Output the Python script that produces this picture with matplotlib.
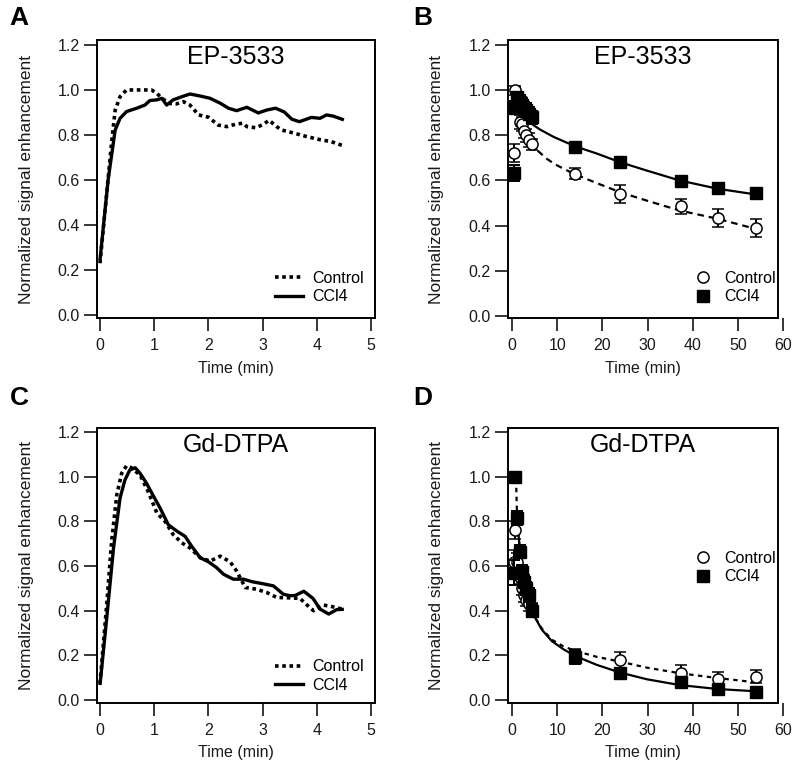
import matplotlib
matplotlib.use("Agg")
import matplotlib.pyplot as plt
from matplotlib.patches import Rectangle
from matplotlib.lines import Line2D

plt.rcParams['font.family'] = ['Liberation Sans', 'DejaVu Sans']

W, H = 800, 780

# ---------------- data ----------------
# Panel A: EP-3533 early time course
a_ctrl_t = [0, 0.12, 0.22, 0.28, 0.37, 0.49, 0.6, 0.75, 0.95, 1.05, 1.14, 1.29, 1.41, 1.54, 1.66,
            1.82, 2.0, 2.18, 2.34, 2.52, 2.64, 2.71, 2.88, 3.01, 3.12, 3.26, 3.35, 3.47, 3.6, 3.81,
            4.06, 4.27, 4.5]
a_ctrl_y = [0.23, 0.53, 0.78, 0.91, 0.97, 1.0, 1.0, 1.0, 1.0, 0.985, 0.963, 0.94, 0.938, 0.948, 0.933,
            0.889, 0.879, 0.844, 0.837, 0.849, 0.852, 0.837, 0.832, 0.847, 0.865, 0.837, 0.822, 0.815,
            0.807, 0.793, 0.779, 0.77, 0.751]
a_ccl4_t = [0, 0.15, 0.28, 0.37, 0.49, 0.68, 0.83, 0.92, 1.05, 1.14, 1.23, 1.35, 1.51, 1.66, 1.85,
            2.03, 2.22, 2.37, 2.52, 2.71, 2.92, 3.08, 3.24, 3.4, 3.54, 3.68, 3.9, 4.06, 4.18, 4.3, 4.5]
a_ccl4_y = [0.244, 0.6, 0.822, 0.874, 0.904, 0.919, 0.933, 0.953, 0.956, 0.963, 0.933, 0.956, 0.97,
            0.982, 0.973, 0.963, 0.941, 0.919, 0.908, 0.923, 0.898, 0.911, 0.919, 0.902, 0.87, 0.859,
            0.878, 0.874, 0.889, 0.884, 0.867]

# Panel C: Gd-DTPA early time course
c_ctrl_t = [0, 0.12, 0.215, 0.31, 0.4, 0.49, 0.58, 0.74, 0.89, 1.05, 1.2, 1.35, 1.51, 1.66, 1.85,
            2.03, 2.22, 2.4, 2.52, 2.68, 2.89, 3.08, 3.26, 3.44, 3.69, 3.87, 3.94, 4.12, 4.25, 4.49]
c_ctrl_y = [0.074, 0.415, 0.711, 0.919, 1.015, 1.049, 1.04, 1.007, 0.933, 0.837, 0.8, 0.741, 0.704,
            0.681, 0.637, 0.622, 0.644, 0.619, 0.578, 0.504, 0.496, 0.481, 0.459, 0.458, 0.455, 0.414,
            0.40, 0.425, 0.42, 0.406]
c_ccl4_t = [0, 0.12, 0.25, 0.37, 0.46, 0.55, 0.65, 0.74, 0.86, 0.98, 1.11, 1.26, 1.42, 1.57, 1.69,
            1.85, 2.0, 2.15, 2.28, 2.46, 2.65, 2.8, 3.02, 3.2, 3.38, 3.5, 3.6, 3.76, 3.93, 4.06, 4.22,
            4.37, 4.5]
c_ccl4_y = [0.067, 0.356, 0.681, 0.904, 0.985, 1.03, 1.04, 1.015, 0.97, 0.916, 0.859, 0.785, 0.756,
            0.733, 0.689, 0.637, 0.619, 0.593, 0.563, 0.541, 0.541, 0.53, 0.52, 0.511, 0.474, 0.467,
            0.468, 0.487, 0.455, 0.407, 0.385, 0.405, 0.406]

# Panels B and D: sampled time points
pts_t = [0.35, 0.7, 1.2, 1.7, 2.2, 2.7, 3.2, 3.7, 4.35, 14, 24, 37.4, 45.6, 54]

b_ctrl_y = [0.72, 1.0, 0.93, 0.86, 0.85, 0.82, 0.80, 0.78, 0.76, 0.63, 0.54, 0.485, 0.433, 0.388]
b_ctrl_err = [0.04, 0.02, 0.03, 0.03, 0.03, 0.03, 0.03, 0.03, 0.025, 0.025, 0.04, 0.035, 0.04, 0.04]
b_ccl4_y = [0.633, 0.923, 0.97, 0.948, 0.933, 0.918, 0.911, 0.896, 0.879, 0.748, 0.681, 0.597,
            0.567, 0.544]
b_ccl4_err = [0.035, 0.03, 0.02, 0.03, 0.03, 0.03, 0.03, 0.03, 0.03, 0.02, 0.02, 0.025, 0.02, 0.02]

b_fit_ctrl_t = [4.0, 5.5, 7.7, 9.5, 11.4, 14, 18.8, 23.9, 29.8, 37.1, 45.6, 54]
b_fit_ctrl_y = [0.77, 0.735, 0.696, 0.672, 0.652, 0.627, 0.588, 0.548, 0.511, 0.467, 0.43, 0.385]
b_fit_ccl4_t = [4.0, 6.25, 9.2, 14, 18.8, 23.9, 29.8, 37.1, 45.6, 54]
b_fit_ccl4_y = [0.855, 0.825, 0.793, 0.751, 0.719, 0.681, 0.644, 0.6, 0.563, 0.538]

d_ctrl_y = [0.62, 0.76, 0.62, 0.55, 0.50, 0.47, 0.45, 0.43, 0.404, 0.20, 0.178, 0.123, 0.096, 0.104]
d_ctrl_err = [0.05, 0.04, 0.04, 0.03, 0.03, 0.03, 0.03, 0.03, 0.03, 0.03, 0.035, 0.035, 0.03, 0.03]
d_ccl4_y = [0.57, 1.0, 0.815, 0.664, 0.575, 0.53, 0.5, 0.47, 0.40, 0.193, 0.12, 0.081, 0.049, 0.037]
d_ccl4_err = [0.055, 0.0, 0.03, 0.03, 0.03, 0.03, 0.03, 0.03, 0.03, 0.03, 0.015, 0.015, 0.015, 0.01]

d_fit_ctrl_t = [0.9, 1.1, 1.8, 3.3, 4.8, 6.6, 8.8, 11.4, 14, 18.8, 23.9, 29.8, 37.1, 45.6, 54]
d_fit_ctrl_y = [0.99, 0.83, 0.65, 0.47, 0.38, 0.32, 0.27, 0.24, 0.22, 0.193, 0.172, 0.145, 0.12,
                0.098, 0.079]
d_fit_ccl4_t = [1.1, 1.8, 3.3, 4.8, 6.6, 8.8, 11.4, 14, 18.8, 23.9, 29.8, 37.1, 45.6, 54]
d_fit_ccl4_y = [0.81, 0.66, 0.47, 0.38, 0.315, 0.264, 0.227, 0.197, 0.157, 0.123, 0.093, 0.067,
                0.049, 0.039]

y_ticks = [0.0, 0.2, 0.4, 0.6, 0.8, 1.0, 1.2]
x_ticks_short = [0, 1, 2, 3, 4, 5]
x_ticks_long = [0, 10, 20, 30, 40, 50, 60]
titles = ["EP-3533", "EP-3533", "Gd-DTPA", "Gd-DTPA"]
letters = ["A", "B", "C", "D"]
series_names = ["Control", "CCl4"]
ylab = "Normalized signal enhancement"
xlab = "Time (min)"

# ---------------- layout helpers ----------------
fig = plt.figure(figsize=(W / 100, H / 100), dpi=100)


def frac(l, t, r, b):
    return [l / W, 1 - b / H, (r - l) / W, (b - t) / H]


def make_panel(axbox, framebox, xlim, ylim, xticks):
    ax = fig.add_axes(frac(*axbox))
    ax.set_xlim(*xlim)
    ax.set_ylim(*ylim)
    for s in ax.spines.values():
        s.set_visible(False)
    ax.set_xticks(xticks)
    ax.set_yticks(y_ticks)
    ax.set_yticklabels([f"{v:.1f}" for v in y_ticks])
    ax.tick_params(direction='out', length=9.5, width=1.1, labelsize=11.5, color='black',
                   labelcolor='#1a1a1a')
    ax.tick_params(axis='y', pad=3)
    ax.tick_params(axis='x', pad=5)
    l, t, r, b = framebox
    fig.add_artist(Rectangle((l / W, 1 - b / H), (r - l) / W, (b - t) / H,
                             transform=fig.transFigure, fill=False, lw=1.4,
                             edgecolor='black', zorder=10))
    return ax


def label_panel(framebox, title, letter, lx, ly, ylab_x):
    l, t, r, b = framebox
    cx = (l + r) / 2
    fig.text(cx / W, 1 - (t + 17) / H, title, ha='center', va='center', fontsize=18)
    fig.text(lx / W, 1 - ly / H, letter, ha='center', va='center', fontsize=19, fontweight='bold')
    fig.text(ylab_x / W, 1 - ((t + b) / 2) / H, ylab, rotation=90, ha='center', va='center',
             fontsize=12.5, color='#1a1a1a')
    fig.text(cx / W, 1 - (b + 50) / H, xlab, ha='center', va='center', fontsize=11.5,
             color='#1a1a1a')


dotted = (0, (1.0, 1.0))
dashed = (0, (3.0, 2.2))

# ---- Panel A ----
fA = (97, 40, 375, 318)
axA = make_panel(fA, fA, (-0.055, 5.074), (-0.0133, 1.222), x_ticks_short)
axA.plot(a_ctrl_t, a_ctrl_y, color='black', lw=2.6, linestyle=dotted, dash_capstyle='butt')
axA.plot(a_ccl4_t, a_ccl4_y, color='black', lw=2.4, solid_capstyle='butt')
label_panel(fA, titles[0], letters[0], 19, 18, 27)

# ---- Panel C ----
fC = (97, 428, 375, 703)
axC = make_panel(fC, fC, (-0.055, 5.074), (-0.0134, 1.218), x_ticks_short)
axC.plot(c_ctrl_t, c_ctrl_y, color='black', lw=2.6, linestyle=dotted, dash_capstyle='butt')
axC.plot(c_ccl4_t, c_ccl4_y, color='black', lw=2.4, solid_capstyle='butt')
label_panel(fC, titles[2], letters[2], 19, 398, 27)

# ---- Panel B ----
fB = (508, 40, 778, 318)
axB = make_panel((508, 40, 784, 318), fB, (-0.885, 60.18), (-0.0089, 1.222), x_ticks_long)


def draw_points(ax, ctrl_y, ctrl_err, ccl4_y, ccl4_err, fit_c_t, fit_c_y, fit_k_t, fit_k_y, fit_c_style):
    ax.plot(fit_c_t, fit_c_y, color='black', lw=1.6, linestyle=fit_c_style, zorder=2)
    ax.plot(fit_k_t, fit_k_y, color='black', lw=1.6, zorder=2)
    ax.errorbar(pts_t, ctrl_y, yerr=ctrl_err, fmt='o', ms=8, mfc='white', mec='black', mew=1.1,
                ecolor='black', elinewidth=1.4, capsize=4, capthick=1.4, zorder=3)
    ax.errorbar(pts_t, ccl4_y, yerr=ccl4_err, fmt='s', ms=9, mfc='black', mec='black',
                ecolor='black', elinewidth=1.4, capsize=4, capthick=1.4, zorder=4)


draw_points(axB, b_ctrl_y, b_ctrl_err, b_ccl4_y, b_ccl4_err,
            b_fit_ctrl_t, b_fit_ctrl_y, b_fit_ccl4_t, b_fit_ccl4_y, dashed)
label_panel(fB, titles[1], letters[1], 423, 18, 437)

# ---- Panel D ----
fD = (508, 428, 778, 703)
axD = make_panel((508, 428, 784, 703), fD, (-0.885, 60.18), (-0.0134, 1.218), x_ticks_long)
draw_points(axD, d_ctrl_y, d_ctrl_err, d_ccl4_y, d_ccl4_err,
            d_fit_ctrl_t, d_fit_ctrl_y, d_fit_ccl4_t, d_fit_ccl4_y, (0, (2.0, 2.0)))
label_panel(fD, titles[3], letters[3], 423, 398, 437)

# ---------------- legends ----------------
line_handles = [Line2D([], [], color='black', lw=2.6, linestyle=dotted, dash_capstyle='butt'),
                Line2D([], [], color='black', lw=2.4)]
marker_handles = [Line2D([], [], marker='o', ls='none', ms=8, mfc='white', mec='black', mew=1.1),
                  Line2D([], [], marker='s', ls='none', ms=8.5, mfc='black', mec='black')]


def add_legend(ax, handles, x_left, y_center, hl, htp):
    ax.legend(handles, series_names, loc='center left',
              bbox_to_anchor=(x_left / W, 1 - y_center / H), bbox_transform=fig.transFigure,
              frameon=False, fontsize=11.5, handlelength=hl, handletextpad=htp,
              labelspacing=0.2, borderpad=0, borderaxespad=0, numpoints=1)


add_legend(axA, line_handles, 275, 287.5, 1.75, 0.6)
add_legend(axC, line_handles, 275, 676, 1.75, 0.6)
add_legend(axB, marker_handles, 694, 287.5, 1.1, 0.8)
add_legend(axD, marker_handles, 694, 567.5, 1.1, 0.8)

fig.savefig("out.png", dpi=100)
